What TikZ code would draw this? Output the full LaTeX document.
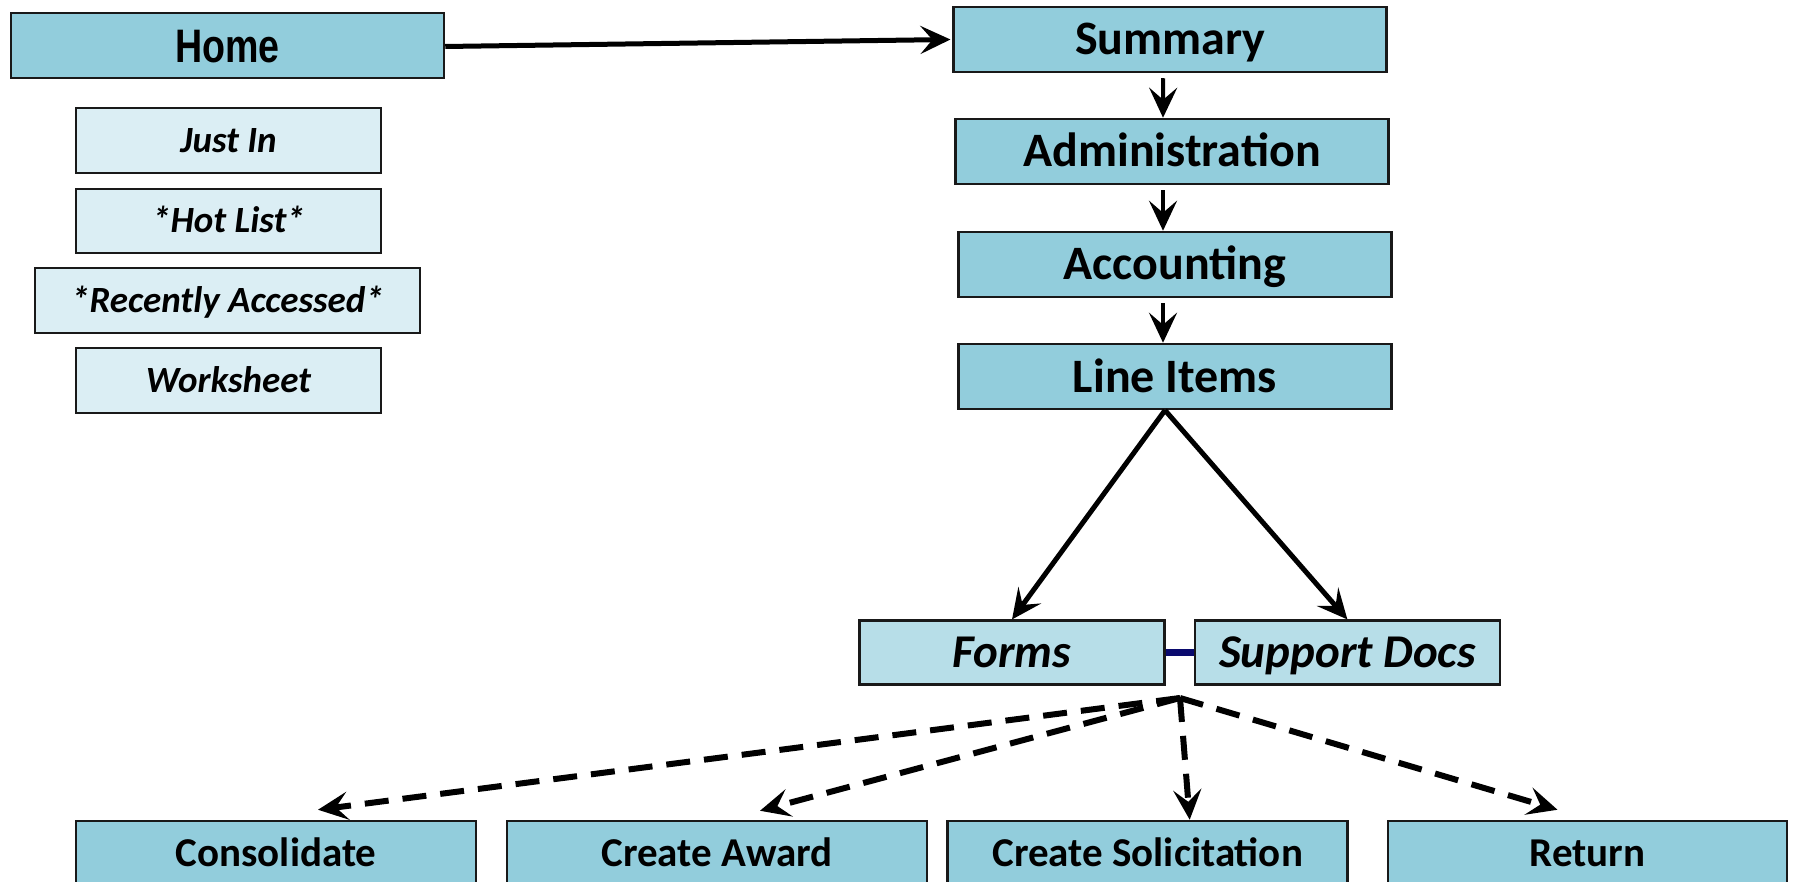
\documentclass[tikz,border=0pt]{standalone}
\usepackage{fontspec}
\setmainfont{Carlito}
\newfontfamily\homefont{Liberation Sans}
\usetikzlibrary{arrows.meta}
\definecolor{darkfill}{RGB}{146,205,220}
\definecolor{lightfill}{RGB}{219,238,244}
\definecolor{midfill}{RGB}{183,222,232}
\definecolor{edgecol}{RGB}{25,25,25}
\definecolor{navyline}{RGB}{10,10,110}
\tikzset{
  boxbase/.style={draw=edgecol, line width=2.5pt, inner sep=0pt, text depth=0pt, anchor=center},
  darkbox/.style={boxbase, fill=darkfill, minimum height=65pt, text height=31pt, font=\fontsize{48}{50}\selectfont\bfseries},
  lightbox/.style={boxbase, fill=lightfill, minimum height=65pt, text height=23.5pt, font=\fontsize{37}{40}\selectfont\bfseries\itshape},
  midbox/.style={boxbase, fill=midfill, minimum height=64pt, text height=30pt, font=\fontsize{47}{50}\selectfont\bfseries\itshape},
  bottombox/.style={boxbase, fill=darkfill, minimum height=65pt, text height=26pt, font=\fontsize{41}{44}\selectfont\bfseries},
  tip/.style={-{Stealth[length=30pt,width=28pt,inset=12pt]}},
  solidarrow/.style={tip, line width=5pt, black},
  smallarrow/.style={tip, line width=4pt, black},
  dasharrow/.style={tip, line width=6pt, black, dash pattern=on 24pt off 14pt},
}
\begin{document}
\begin{tikzpicture}[x=1pt, y=-1pt]
\useasboundingbox (0,0) rectangle (1795,882);
\clip (0,0) rectangle (1795,882);
\fill[white] (0,0) rectangle (1795,882);

% left column
\node[darkbox, minimum width=433pt, text height=34pt] (home) at (227.5,45.5)
  {\homefont\fontsize{47}{50}\selectfont\bfseries\scalebox{0.8}[1]{Home}};
\node[lightbox, minimum width=305pt] (justin) at (228.5,140.5) {Just In};
\node[lightbox, minimum width=305pt, minimum height=64pt] (hotlist) at (228.5,221) {*Hot List*};
\node[lightbox, minimum width=385pt] (recent) at (227.5,300.5) {*Recently Accessed*};
\node[lightbox, minimum width=305pt] (worksheet) at (228.5,380.5) {Worksheet};

% right column
\node[darkbox, minimum width=433pt] (summary) at (1170.2,39.5) {Summary};
\node[darkbox, minimum width=433pt] (admin) at (1172,151.5) {Administration};
\node[darkbox, minimum width=433pt] (acct) at (1175,264.5) {Accounting};
\node[darkbox, minimum width=433pt] (lineitems) at (1175,376.5) {Line Items};

\node[midbox, minimum width=305pt] (forms) at (1012,652.7) {Forms};
\node[midbox, minimum width=305pt] (supdocs) at (1347.4,652.7) {Support Docs};

% bottom row
\node[bottombox, minimum width=400pt] (consol) at (276,853.5) {Consolidate};
\node[bottombox, minimum width=420pt] (award) at (717,853.5) {Create Award};
\node[bottombox, minimum width=400pt] (solic) at (1147.7,853.5) {Create Solicitation};
\node[bottombox, minimum width=399pt] (return) at (1587.5,853.5) {Return};

% connectors
\draw[solidarrow] ([yshift=-1]home.east) -- ([xshift=-2]summary.west);
\draw[smallarrow] ([shift={(-7,5)}]summary.south) -- ([xshift=-9]admin.north);
\draw[smallarrow] ([shift={(-9,5)}]admin.south) -- ([xshift=-12]acct.north);
\draw[smallarrow] ([shift={(-12,5)}]acct.south) -- ([xshift=-12]lineitems.north);

\draw[solidarrow] ([xshift=-10]lineitems.south) -- (forms.north);
\draw[solidarrow] ([xshift=-10]lineitems.south) -- (supdocs.north);

\draw[navyline, line width=7pt] (forms.east) -- (supdocs.west);

\coordinate (apex) at (1180,698);
\draw[dasharrow] (apex) -- ([shift={(42,-10)}]consol.north);
\draw[dasharrow] (apex) -- ([shift={(43,-9)}]award.north);
\draw[dasharrow] (apex) -- ([xshift=42]solic.north);
\draw[dasharrow] (apex) -- ([shift={(-30,-10)}]return.north);
\end{tikzpicture}
\end{document}
